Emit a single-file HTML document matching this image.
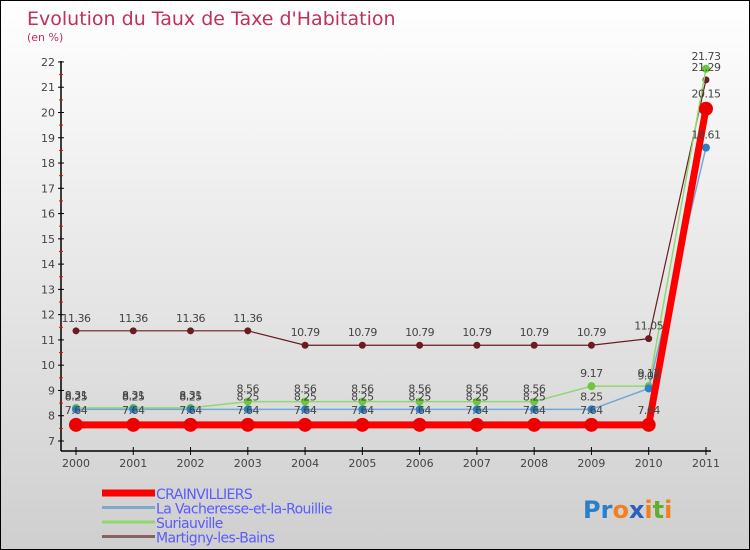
<!DOCTYPE html>
<html><head><meta charset="utf-8"><style>
body{margin:0;}
#c{width:748px;height:548px;border:1px solid #000;background:linear-gradient(#fff,#cfcfcf);position:relative;font-family:"DejaVu Sans","Liberation Sans",sans-serif;}
</style></head><body>
<div id="c">
<svg id="s" width="748" height="548" style="position:absolute;left:0;top:0">
<text x="26" y="24" font-size="19" fill="#c0305a">Evolution du Taux de Taxe d'Habitation</text>
<text x="26" y="40" font-size="11" fill="#c0305a">(en %)</text>
</svg>
</div>
<script>
const years=['2000','2001','2002','2003','2004','2005','2006','2007','2008','2009','2010','2011'];
const crain=[7.64,7.64,7.64,7.64,7.64,7.64,7.64,7.64,7.64,7.64,7.64,20.15];
const vach=[8.25,8.25,8.25,8.25,8.25,8.25,8.25,8.25,8.25,8.25,9.08,18.61];
const suri=[8.31,8.31,8.31,8.56,8.56,8.56,8.56,8.56,8.56,9.17,9.17,21.73];
const mart=[11.36,11.36,11.36,11.36,10.79,10.79,10.79,10.79,10.79,10.79,11.05,21.29];
const yTicks=[7,8,9,10,11,12,13,14,15,16,17,18,19,20,21,22];
const names=['CRAINVILLIERS','La Vacheresse-et-la-Rouillie','Suriauville','Martigny-les-Bains'];
const NS='http://www.w3.org/2000/svg';
const s=document.getElementById('s');
const X=i=>75+i*57.27, Y=v=>440-(v-7)*25.27;
function el(t,a,p){const e=document.createElementNS(NS,t);for(const k in a)e.setAttribute(k,a[k]);(p||s).appendChild(e);return e;}
let ax=el('path',{d:'M60,60V450M60,450H710',stroke:'#000','stroke-width':1.5,fill:'none'});


yTicks.forEach(v=>{
  el('line',{x1:57,x2:63,y1:Y(v),y2:Y(v),stroke:'#000'});
  if(v<22) el('line',{x1:58,x2:62,y1:Y(v+0.5),y2:Y(v+0.5),stroke:'#f00'});
  const t=el('text',{x:54,y:Y(v)+4,'font-size':11,fill:'#444','text-anchor':'end'});t.textContent=v;
  
  
});
years.forEach((y,i)=>{
  el('line',{x1:X(i),x2:X(i),y1:446,y2:454,stroke:'#000'});
  const t=el('text',{x:X(i),y:466,'font-size':11,fill:'#444','text-anchor':'middle'});t.textContent=y;
  
  
});
const series=[[mart,'#6b1c22',1.2,3.5,'#6b1c22'],[suri,'#90d870',1.5,4,'#6ac83a'],[vach,'#70a8d8',1.5,4,'#2a80c8'],[crain,'#f00',7,7,'#e00']];
const keys=['martigny','suriauville','vacheresse','crainvilliers'];
series.forEach(([d,c,w,r,pc],k)=>{
  const g=el('g',{});
  
  
  el('polyline',{points:d.map((v,i)=>X(i)+','+Y(v)).join(' '),fill:'none',stroke:c,'stroke-width':w},g);
  d.forEach((v,i)=>{
    const p=el('circle',{cx:X(i),cy:Y(v),r:r,fill:pc},g);
    
    
  });
});
series.forEach(([d],k)=>{d.forEach((v,i)=>{
  const t=el('text',{x:X(i),y:Y(v)-(k==3?11:9),'font-size':11,fill:'#444','text-anchor':'middle','letter-spacing':'-0.5'});
  t.textContent=v.toFixed(2);
  
  
});});
const lc=['#f00','#80a8c8','#90d870','#8a6060'],lw=[7,3,3,3];
names.forEach((n,i)=>{
  const y=492+i*14.5;
  const g=el('g',{});
  
  
  el('line',{x1:101,x2:154,y1:y,y2:y,stroke:lc[i],'stroke-width':lw[i]},g);
  const t=el('text',{x:155,y:y+6,'font-size':14,fill:'#5a5aff','letter-spacing':'-0.6'},g);t.textContent=n;
});
const lg=el('text',{x:582,y:517,'font-size':24,'font-weight':'bold'});


[['Pr','#2a80c8'],['o','#f08020'],['x','#2a60c0'],['i','#f08020'],['t','#60b030'],['i','#f08020']].forEach(([c,col])=>{const ts=el('tspan',{fill:col},lg);ts.textContent=c;});
</script>
</body></html>
